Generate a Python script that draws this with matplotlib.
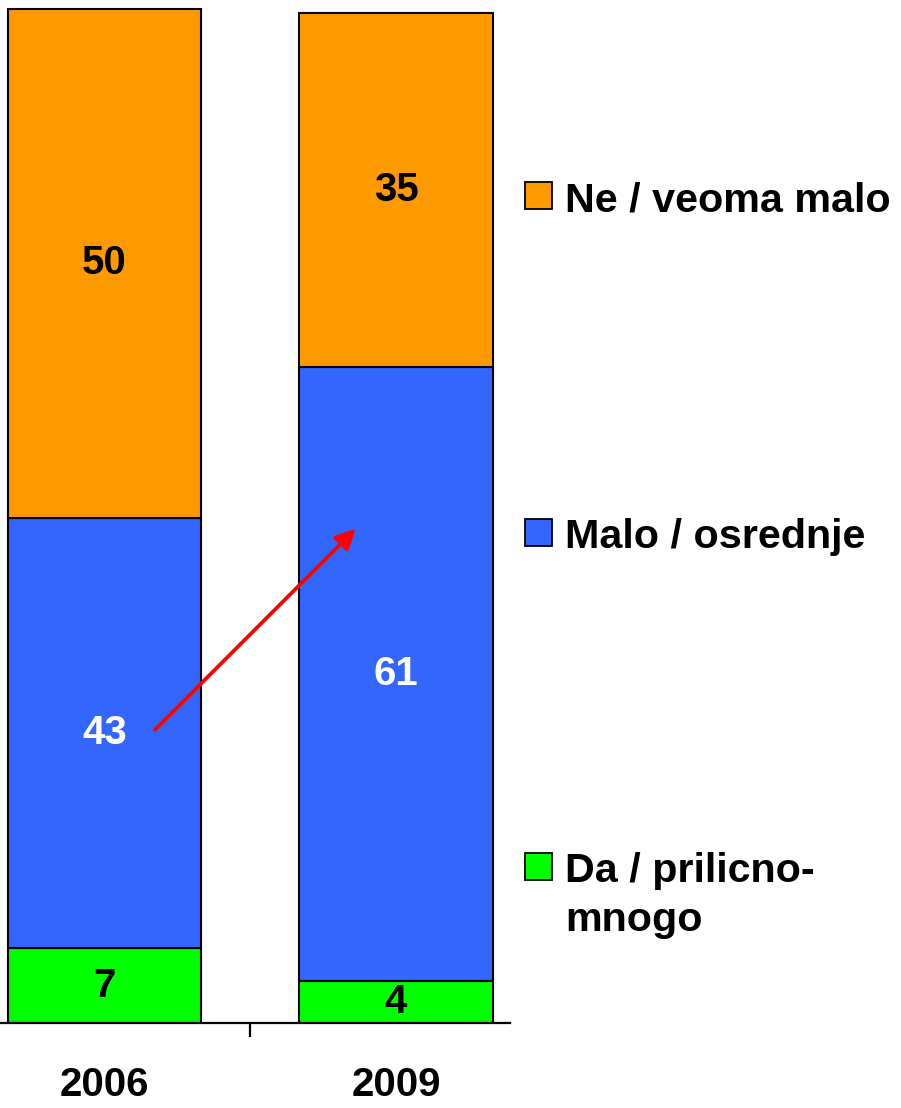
import matplotlib
matplotlib.use("Agg")
import matplotlib.pyplot as plt
from matplotlib.patches import Rectangle

plt.rcParams['font.family'] = ['Liberation Sans', 'DejaVu Sans']
plt.rcParams['font.weight'] = 'bold'

# %% — Data
years     = ["2006", "2009"]
series    = ["Da / prilicno-\nmnogo", "Malo / osrednje", "Ne / veoma malo"]
da_vals   = [7.4, 4.15]
malo_vals = [42.6, 60.7]
ne_vals   = [50.3, 35.1]
colors    = ["#00FF00", "#3366FF", "#FF9900"]
txt_cols  = ["black", "white", "black"]

# arrow from the 2006 middle segment towards the 2009 one
arrow_from = (0.173, 29.0)
arrow_to   = (0.862, 48.9)

W, H = 901, 1108
fig = plt.figure(figsize=(W / 100, H / 100), dpi=100)
ax = fig.add_axes([0, 85 / H, 510 / W, 1023 / H])

x = list(range(len(years)))
bottom = [0.0] * len(years)
for vals, col, tcol in zip([da_vals, malo_vals, ne_vals], colors, txt_cols):
    ax.bar(x, vals, width=0.664, bottom=bottom, color=col,
           edgecolor="black", linewidth=1.5)
    for i, v in enumerate(vals):
        ax.text(x[i], bottom[i] + v / 2, f"{v:.0f}", ha="center", va="center",
                fontsize=29, fontweight="bold", color=tcol)
    bottom = [b + v for b, v in zip(bottom, vals)]

ax.annotate("", xy=arrow_to, xytext=arrow_from,
            arrowprops=dict(arrowstyle="-|>,head_length=0.6,head_width=0.3",
                            color="red", lw=2.7, mutation_scale=20,
                            shrinkA=0, shrinkB=0))

ax.set_xlim(-0.358, 1.391)
ax.set_ylim(0, 101.2)
ax.set_yticks([])
for s in ["left", "top", "right"]:
    ax.spines[s].set_visible(False)
ax.spines["bottom"].set_linewidth(1.6)

ax.set_xticks(x)
ax.set_xticklabels(years, fontsize=29, fontweight="bold")
ax.tick_params(axis="x", which="major", length=0, pad=31)
ax.set_xticks([0.5], minor=True)
ax.tick_params(axis="x", which="minor", length=10, width=1.6, direction="out")

# legend drawn by hand: top entry first
leg_base = [211, 548, 882]     # baselines in px
for name, col, yb in zip(series[::-1], colors[::-1], leg_base):
    sq_top = yb - 29
    fig.add_artist(Rectangle((525 / W, 1 - (sq_top + 27) / H), 27 / W, 27 / H,
                             transform=fig.transFigure, facecolor=col,
                             edgecolor="black", linewidth=1.3))
    for k, line in enumerate(name.split("\n")):
        fig.text(565 / W, 1 - (yb + 49 * k) / H, line, ha="left", va="baseline",
                 fontsize=29.7, fontweight="bold")

fig.savefig("out.png", dpi=100)
